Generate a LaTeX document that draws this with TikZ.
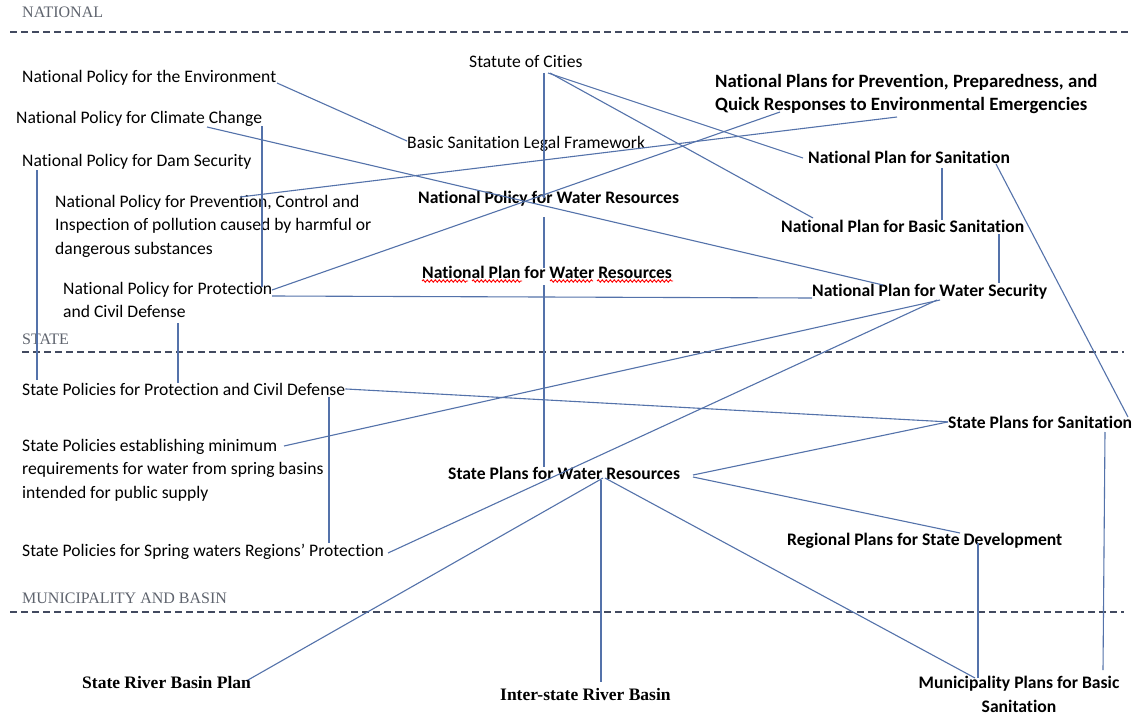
\documentclass[tikz,border=0pt]{standalone}
\usepackage{fontspec}
\setmainfont{Carlito}[Ligatures=NoCommon]
\newfontfamily\headfont{Liberation Serif}
\usepackage{tikz}
\usetikzlibrary{positioning}
\usetikzlibrary{decorations.pathmorphing}
\definecolor{linkblue}{RGB}{84,114,170}
\definecolor{rulegray}{RGB}{66,74,96}
\definecolor{headgray}{RGB}{95,100,110}

\begin{document}
\begin{tikzpicture}[x=1pt,y=-1pt,
  lbl/.style={inner sep=0pt,anchor=base west,font=\fontsize{17.6}{23.5}\selectfont},
  blbl/.style={lbl,font=\fontsize{17.6}{23.5}\selectfont\bfseries},
  mlbl/.style={inner sep=0pt,anchor=north west,align=left,font=\fontsize{17.6}{23.5}\selectfont},
  tierhead/.style={inner sep=0pt,anchor=base west,text=headgray,font=\headfont\fontsize{16}{18}\selectfont},
  bserif/.style={inner sep=0pt,anchor=base west,font=\headfont\fontsize{17.5}{20}\selectfont\bfseries},
  link/.style={draw=linkblue,line width=1.1pt},
  tier/.style={draw=rulegray,line width=2.8pt,dash pattern=on 7pt off 4pt},
  spell/.style={draw=red,line width=0.9pt,decorate,decoration={snake,amplitude=1.2pt,segment length=4pt}}]
\useasboundingbox[fill=white] (0,0) rectangle (1136,717);

\node[tierhead] (natl) at (22,18) {NATIONAL};
\node[tierhead] (stat) at (22,344) {STATE};
\node[tierhead] (muni) at (22,603) {MUNICIPALITY AND BASIN};
\draw[tier] (10,32) -- (1128,32);
\draw[tier] (22,352) -- (1124,352);
\draw[tier] (10,612) -- (1124,612);

\node[lbl] (env) at (22,83) {National Policy for the Environment};
\node[lbl] (clim) at (16,124) {National Policy for Climate Change};
\node[lbl] (dam) at (22,166) {National Policy for Dam Security};
\node[mlbl] (poll) at (55,195) {National Policy for Prevention, Control and\\Inspection of pollution caused by harmful or\\dangerous substances};
\node[mlbl] (prot) at (63,282) {National Policy for Protection\\and Civil Defense};
\node[lbl] (soc) at (469,67) {Statute of Cities};
\node[lbl] (bslf) at (407,148) {Basic Sanitation Legal Framework};
\node[blbl] (npwr) at (418,203) {National Policy for Water Resources};
\node[blbl] (nplwr) at (422,278) {National Plan for Water Resources};
\node[mlbl,font=\fontsize{18.8}{23}\selectfont\bfseries] (emer) at (715,74) {National Plans for Prevention, Preparedness, and\\Quick Responses to Environmental Emergencies};
\node[blbl] (nps) at (808,163) {National Plan for Sanitation};
\node[blbl] (npbs) at (781,232) {National Plan for Basic Sanitation};
\node[blbl] (npws) at (812,296) {National Plan for Water Security};
\node[lbl] (spcd) at (22,395) {State Policies for Protection and Civil Defense};
\node[mlbl] (spmr) at (22,439) {State Policies establishing minimum\\requirements for water from spring basins\\intended for public supply};
\node[lbl] (spsw) at (22,556) {State Policies for Spring waters Regions’ Protection};
\node[blbl] (spwr) at (448,479) {State Plans for Water Resources};
\node[blbl] (sps) at (948,428) {State Plans for Sanitation};
\node[blbl] (rpsd) at (787,545) {Regional Plans for State Development};
\node[bserif] (srbp) at (82,688) {State River Basin Plan};
\node[bserif] (isrb) at (500,700) {Inter-state River Basin};
\node[mlbl,align=center,anchor=north,font=\fontsize{17.6}{23.5}\selectfont\bfseries] (mpbs) at (1019,676) {Municipality Plans for Basic\\Sanitation};

\draw[spell] ([shift={(0,3)}]nplwr.base west) -- ++(46,0);
\draw[spell] ([shift={(50,3)}]nplwr.base west) -- ++(50,0);
\draw[spell] ([shift={(128,3)}]nplwr.base west) -- ++(43,0);
\draw[spell] ([shift={(175,3)}]nplwr.base west) -- ++(76,0);

\draw[link] ([shift={(255,0)}]env.base west) -- ([shift={(0,-7)}]bslf.base west);
\draw[link] ([shift={(191,3)}]clim.base west) -- ([shift={(71,-11)}]npws.base west);
\draw[link] ([shift={(15,4)}]dam.base west) -- ([shift={(15,-15)}]spcd.base west);
\draw[link] ([shift={(185,2)}]poll.north west) -- ([shift={(182,43)}]emer.north west);
\draw[link] ([shift={(209,8)}]prot.north west) -- ([shift={(65,38)}]emer.north west);
\draw[link] ([shift={(209,14)}]prot.north west) -- ([shift={(0,2)}]npws.base west);
\draw[link] ([shift={(246,2)}]clim.base west) -- ([shift={(199,5)}]prot.north west);
\draw[link] ([shift={(115,41)}]prot.north west) -- ([shift={(156,-12)}]spcd.base west);
\draw[link] ([shift={(75,6)}]soc.base west) -- ([shift={(126,-5)}]npwr.base west);
\draw[link] ([shift={(126,14)}]npwr.base west) -- ([shift={(122,-10)}]nplwr.base west);
\draw[link] ([shift={(122,7)}]nplwr.base west) -- ([shift={(96,-12)}]spwr.base west);
\draw[link] ([shift={(79,6)}]soc.base west) -- ([shift={(-5,-5)}]nps.base west);
\draw[link] ([shift={(81,6)}]soc.base west) -- ([shift={(32,-14)}]npbs.base west);
\draw[link] ([shift={(134,5)}]nps.base west) -- ([shift={(161,-12)}]npbs.base west);
\draw[link] ([shift={(218,2)}]npbs.base west) -- ([shift={(187,-13)}]npws.base west);
\draw[link] ([shift={(188,1)}]nps.base west) -- ([shift={(180,-11)}]sps.base west);
\draw[link] ([shift={(128,4)}]npws.base west) -- ([shift={(262,7)}]spmr.north west);
\draw[link] ([shift={(125,4)}]npws.base west) -- ([shift={(366,-3)}]spsw.base west);
\draw[link] (spcd.east) -- (sps.west);
\draw[link] ([shift={(307,2)}]spcd.base west) -- ([shift={(307,-13)}]spsw.base west);
\draw[link] ([shift={(245,-4)}]spwr.base west) -- (sps.west);
\draw[link] ([shift={(245,-2)}]spwr.base west) -- ([shift={(173,-12)}]rpsd.base west);
\draw[link] ([shift={(155,-1)}]spwr.base west) -- ([shift={(166,-8)}]srbp.base west);
\draw[link] ([shift={(153,1)}]spwr.base west) -- ([shift={(101,-18)}]isrb.base west);
\draw[link] ([shift={(157,-1)}]spwr.base west) -- ([shift={(-44,2)}]mpbs.north);
\draw[link] ([shift={(191,-2)}]rpsd.base west) -- ([shift={(-41,2)}]mpbs.north);
\draw[link] ([shift={(157,4)}]sps.base west) -- ([shift={(84,-6)}]mpbs.north);
\end{tikzpicture}
\end{document}
